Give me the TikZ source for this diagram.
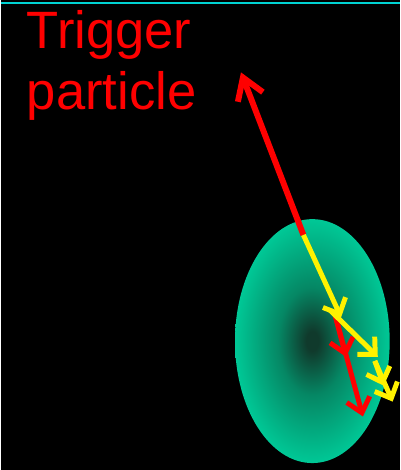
\documentclass[tikz,border=0pt]{standalone}
\usepackage{fontspec}
\setmainfont{Liberation Sans}
\usetikzlibrary{arrows.meta,positioning}
\definecolor{blobteal}{RGB}{0,200,150}
\definecolor{blobmid}{RGB}{5,135,100}
\definecolor{blobdark}{RGB}{16,58,44}
\definecolor{topline}{RGB}{0,210,210}
\pgfdeclareradialshading{glow}{\pgfpoint{0bp}{0bp}}{color(0bp)=(blobdark); color(2bp)=(blobdark); color(11bp)=(blobmid); color(25bp)=(blobteal); color(50bp)=(blobteal)}

\begin{document}
\begin{tikzpicture}[
  x=1bp, y=-1bp,
  trigger/.style={draw=red, line width=6bp, -{Straight Barb[length=21bp,width=27bp]}},
  assoc/.style={draw=yellow, line width=5bp, -{Straight Barb[length=13bp,width=25bp]}},
  decay/.style={draw=red, line width=5bp, -{Straight Barb[length=14bp,width=24bp]}},
  tag/.style={text=red, font=\fontsize{53bp}{61bp}\selectfont, inner sep=0pt, anchor=base west}
]
  % Background
  \fill[black] (-2,-2) rectangle (400,472);
  \draw[topline, line width=2bp] (-2,1) -- (400,1);
  \useasboundingbox (0,0) rectangle (398,470);

  % Medium
  \shade[shading=glow] (312,342) ellipse [x radius=78, y radius=123];

  % Label
  \node[tag] (tagtop) at (24,47) {Trigger};
  \node[tag] (tagbot) at (24,108) {particle};

  % Track points
  \coordinate (vtx) at (303,235);
  \coordinate (trig) at (240,71);
  \coordinate (ya) at (341,318);
  \coordinate (yb) at (330,311);
  \coordinate (ybe) at (378,358);
  \coordinate (yc) at (375,362);
  \coordinate (ycm) at (384,387);
  \coordinate (yd) at (393,403);
  \coordinate (r0) at (335,316);
  \coordinate (rm) at (346,358);
  \coordinate (r1) at (363,418);

  % Trigger particle
  \draw[trigger] (vtx) -- (trig);

  % Red decay products
  \draw[decay] (r0) -- (rm);
  \draw[decay] (r0) -- (r1);

  % Yellow cascade
  \draw[assoc] (vtx) -- (ya);
  \draw[assoc] (yb) -- (ybe);
  \draw[assoc] (yc) -- (ycm);
  \draw[assoc] (yc) -- (yd);
\end{tikzpicture}
\end{document}
